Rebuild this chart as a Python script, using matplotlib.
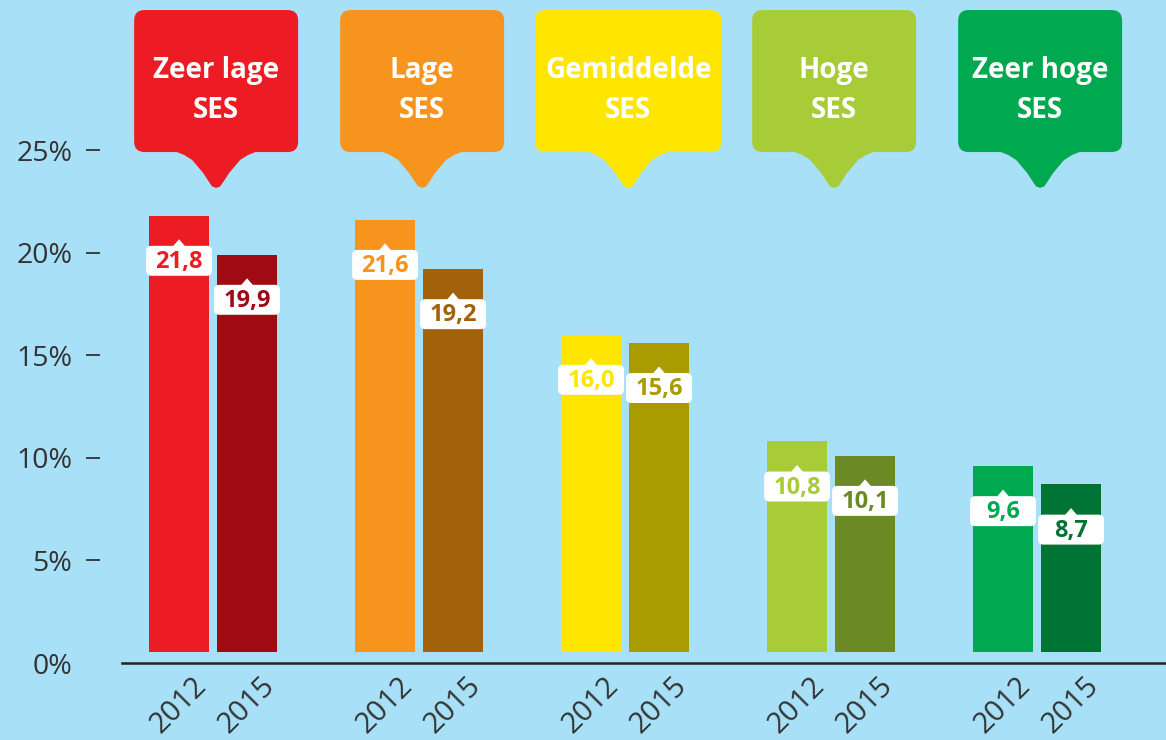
import matplotlib
matplotlib.use("Agg")
import matplotlib.pyplot as plt
from matplotlib.patches import FancyBboxPatch, Polygon
import numpy as np

# Data
groups = ["Zeer lage\nSES", "Lage\nSES", "Gemiddelde\nSES", "Hoge\nSES", "Zeer hoge\nSES"]
years = ["2012", "2015"]
values_2012 = [21.8, 21.6, 16.0, 10.8, 9.6]
values_2015 = [19.9, 19.2, 15.6, 10.1, 8.7]
colors_2012 = ["#ed1c24", "#f7941d", "#ffe600", "#a8cb38", "#00a94f"]
colors_2015 = ["#9e0b12", "#a3610b", "#a99b00", "#6b8a25", "#007434"]
yticks = [0, 5, 10, 15, 20, 25]
ytick_labels = ["0%", "5%", "10%", "15%", "20%", "25%"]

BG = "#a8e0f8"
FONT = "Open Sans"

fig = plt.figure(figsize=(11.66, 7.40), dpi=100, facecolor=BG)
ax = fig.add_axes([122 / 1166, 77 / 740, 1044 / 1166, 663 / 740])
ax.set_facecolor(BG)
ax.set_xlim(-0.442, 4.626)
ax.set_ylim(0, 32.31)

# pixels per data unit in x and y
px_x = 1044 / 5.068
px_y = 663 / 32.31
aspect = px_x / px_y

x = np.arange(len(groups))
offset = 0.165
width = 0.29
base = 0.55  # bars stop a little above the axis line

for i, (v12, v15) in enumerate(zip(values_2012, values_2015)):
    for xc, v, col in [(x[i] - offset, v12, colors_2012[i]), (x[i] + offset, v15, colors_2015[i])]:
        ax.bar(xc, v - base, bottom=base, width=width, color=col, zorder=2)
        # white value label with a small pointer on top
        yc = v - 2.2
        bw, bh = 0.32, 1.46
        ax.add_patch(FancyBboxPatch((xc - bw / 2, yc - bh / 2), bw, bh,
                                    boxstyle="round,pad=0,rounding_size=0.025",
                                    mutation_aspect=aspect, fc="white", ec="none", zorder=3))
        top = yc + bh / 2
        ax.add_patch(Polygon([(xc - 0.032, top - 0.05), (xc + 0.032, top - 0.05), (xc, top + 0.32)],
                             closed=True, fc="white", ec="none", zorder=3))
        ax.text(xc, yc - 0.05, f"{v:.1f}".replace(".", ","), ha="center", va="center",
                color=col, fontsize=17, fontweight="bold", family=FONT, zorder=4)

# pointer shape of the call-outs (half width in px against height above the tip in px)
depth_px = np.array([0, 1.5, 5, 15, 28, 33, 37])
half_px = np.array([0, 4, 6.5, 13, 24, 32, 42])

# header call-outs
for i, name in enumerate(groups):
    cx = x[i] + 0.015
    longest = max(len(s) for s in name.split("\n"))
    hw = 0.452 if longest > 9 else 0.398
    y0, y1, tip = 24.9, 31.82, 23.15
    ax.add_patch(FancyBboxPatch((cx - hw, y0), 2 * hw, y1 - y0,
                                boxstyle="round,pad=0,rounding_size=0.05",
                                mutation_aspect=aspect, fc=colors_2012[i], ec="none",
                                clip_on=False, zorder=2))
    xs = np.concatenate([cx - half_px[::-1] / px_x, cx + half_px[1:] / px_x])
    ys = np.concatenate([tip + depth_px[::-1] / px_y, tip + depth_px[1:] / px_y])
    ax.add_patch(Polygon(np.column_stack([xs, ys]), closed=True, fc=colors_2012[i],
                         ec="none", clip_on=False, zorder=2))
    ax.text(cx, 27.9, name, ha="center", va="center", color="white", fontsize=20,
            fontweight="bold", family=FONT, linespacing=1.5, zorder=3)

# axes styling
ax.set_xticks(np.concatenate([x - offset, x + offset]),
              years[:1] * len(x) + years[1:] * len(x))
ax.tick_params(axis="x", length=0, pad=6, labelsize=21, labelcolor="#333333")
for lab in ax.get_xticklabels():
    lab.set_rotation(45)
    lab.set_ha("center")
    lab.set_family(FONT)

ax.set_yticks(yticks, ytick_labels)
ax.spines["left"].set_position(("outward", 15.8))
ax.spines["left"].set_visible(False)
ax.tick_params(axis="y", length=10, width=1.3, color="#333333", pad=10,
               labelsize=20.5, labelcolor="#333333")
for lab in ax.get_yticklabels():
    lab.set_family(FONT)
ax.yaxis.get_major_ticks()[0].tick1line.set_visible(False)

for s in ["top", "right"]:
    ax.spines[s].set_visible(False)
ax.spines["bottom"].set_color("#222222")
ax.spines["bottom"].set_linewidth(1.8)

fig.savefig("out.png", dpi=100, facecolor=BG)
